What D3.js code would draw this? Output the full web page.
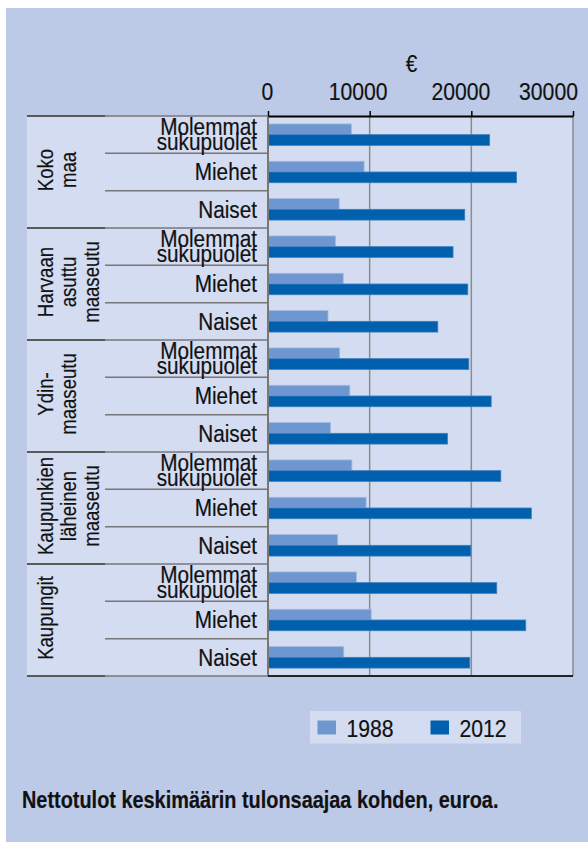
<!DOCTYPE html>
<html lang="fi">
<head>
<meta charset="utf-8">
<title>Nettotulot keskimäärin tulonsaajaa kohden</title>
<script src="https://d3js.org/d3.v7.min.js"></script>
<style>
  body { margin: 0; background: #fff; }
  svg text { font-family: "Liberation Sans", Arial, sans-serif; fill: #111; stroke: #111; stroke-width: 0.2; }
</style>
</head>
<body>
<div id="chart"></div>
<script>
// data
const groups = ["Koko maa", "Harvaan asuttu maaseutu", "Ydin-maaseutu", "Kaupunkien läheinen maaseutu", "Kaupungit"];
const groupLines = [["Koko", "maa"], ["Harvaan", "asuttu", "maaseutu"], ["Ydin-", "maaseutu"], ["Kaupunkien", "läheinen", "maaseutu"], ["Kaupungit"]];
const subgroups = ["Molemmat sukupuolet", "Miehet", "Naiset"];
const subLines = [["Molemmat", "sukupuolet"], ["Miehet"], ["Naiset"]];
const years = ["1988", "2012"];
const values1988 = [8200, 9450, 7000, 6650, 7400, 5900, 7050, 8050, 6150, 8250, 9650, 6850, 8700, 10150, 7450];
const values2012 = [21800, 24450, 19350, 18200, 19650, 16700, 19750, 21950, 17650, 22900, 25900, 19950, 22500, 25350, 19850];
const xTicks = [0, 10000, 20000, 30000];
const unitLabel = "€";
const caption = "Nettotulot keskimäärin tulonsaajaa kohden, euroa.";

const W = 588, H = 842;
const colors = { "1988": "#6f97cf", "2012": "#0060ad" };
const strokes = { "1988": "#a3bbe2", "2012": "#3b7dc2" };
const NARROW = "scale(0.865,1)"; // condensed look, no narrow font installed

// rows: one per group x subgroup
const rows = [];
groups.forEach((g, gi) => subgroups.forEach((s, si) => {
  const i = gi * subgroups.length + si;
  rows.push({ id: i, group: g, gi: gi, sub: s, si: si, v: { "1988": values1988[i], "2012": values2012[i] } });
}));

const plotL = 268, plotR = 573, plotT = 116, plotB = 676;
const groupL = 27, subL = 105;

const x = d3.scaleLinear().domain([0, 30000]).range([plotL, plotR]);
const y = d3.scaleBand().domain(rows.map(d => d.id)).range([plotT, plotB]);
const yy = d3.scaleBand().domain(years).range([0, y.bandwidth()]).paddingOuter(0.74);

const svg = d3.select("#chart").append("svg").attr("width", W).attr("height", H);

// backgrounds
svg.append("rect").attr("x", 6).attr("y", 8).attr("width", W - 6).attr("height", H - 8).attr("fill", "#bccae8");
svg.append("rect").attr("x", groupL).attr("y", plotT).attr("width", plotR - groupL).attr("height", plotB - plotT).attr("fill", "#d3dcf0");

// grid lines
svg.append("g").selectAll("line").data(xTicks.slice(1)).join("line")
  .attr("x1", d => x(d)).attr("x2", d => x(d)).attr("y1", plotT).attr("y2", plotB)
  .attr("stroke", "#8c8c8c").attr("stroke-width", 1.5);

// row separators
const seps = svg.append("g");
rows.forEach(d => {
  if (d.id === 0) return;
  const y0 = y(d.id);
  if (d.si === 0) {
    seps.append("line").attr("x1", groupL).attr("x2", subL).attr("y1", y0).attr("y2", y0)
      .attr("stroke", "#5a5a5a").attr("stroke-width", 2);
  }
  seps.append("line").attr("x1", subL).attr("x2", plotL).attr("y1", y0).attr("y2", y0)
    .attr("stroke", "#777").attr("stroke-width", 1.5);
});
// top and bottom edges of label panel
[plotT, plotB].forEach(v => {
  seps.append("line").attr("x1", groupL).attr("x2", subL).attr("y1", v).attr("y2", v).attr("stroke", "#5a5a5a").attr("stroke-width", 2);
  seps.append("line").attr("x1", subL).attr("x2", plotL).attr("y1", v).attr("y2", v).attr("stroke", "#777").attr("stroke-width", 1.5);
});

// bars
const rowG = svg.append("g").selectAll("g").data(rows).join("g")
  .attr("transform", d => `translate(0,${y(d.id)})`);
rowG.selectAll("rect").data(d => years.map(k => ({ year: k, value: d.v[k] }))).join("rect")
  .attr("x", x(0))
  .attr("y", d => yy(d.year))
  .attr("width", d => x(d.value) - x(0))
  .attr("height", yy.bandwidth())
  .attr("fill", d => colors[d.year])
  .attr("stroke", d => strokes[d.year])
  .attr("stroke-width", 0.8);

// zero line, bottom line
svg.append("line").attr("x1", x(0)).attr("x2", x(0)).attr("y1", plotT).attr("y2", plotB)
  .attr("stroke", "#777").attr("stroke-width", 2);
svg.append("line").attr("x1", x(0)).attr("x2", plotR).attr("y1", plotB).attr("y2", plotB)
  .attr("stroke", "#222").attr("stroke-width", 2);

// top axis
const labelShift = { 0: -1, 10000: -12, 20000: -11, 30000: -25 };
const axis = svg.append("g").attr("transform", `translate(0,${plotT})`)
  .call(d3.axisTop(x).tickValues(xTicks).tickSize(5).tickSizeOuter(0).tickPadding(11).tickFormat(d3.format("d")));
axis.attr("font-family", null).attr("font-size", null);
axis.select(".domain").attr("stroke", "#000").attr("stroke-width", 2);
axis.selectAll(".tick line").attr("stroke", "#000").attr("stroke-width", 1.5);
axis.selectAll(".tick text").attr("font-size", 24.5).attr("fill", "#111")
  .attr("transform", d => `translate(${labelShift[d]},0) ${NARROW}`);

svg.append("text").attr("transform", `translate(411.5,72) ${NARROW}`).attr("text-anchor", "middle")
  .attr("font-size", 24).text(unitLabel);

// subgroup labels
const subText = rowG.append("text").attr("text-anchor", "end").attr("font-size", 24)
  .attr("transform", `translate(257,0) ${NARROW}`);
subText.selectAll("tspan").data(d => subLines[d.si].map((t, j, a) => ({ t: t, j: j, n: a.length }))).join("tspan")
  .attr("x", 0)
  .attr("y", d => d.n === 1 ? 27 : 19.3 + d.j * 14.3)
  .text(d => d.t);

// group labels (rotated)
const gH = y.bandwidth() * subgroups.length;
svg.append("g").selectAll("text").data(groups).join("text")
  .attr("transform", (d, i) => `translate(0,${plotT + i * gH + gH / 2 - 2}) rotate(-90) ${NARROW}`)
  .attr("text-anchor", "middle").attr("font-size", 21.5)
  .selectAll("tspan").data((d, i) => groupLines[i]).join("tspan")
  .attr("x", 0).attr("y", (d, j) => 53 + j * 22.8)
  .text(d => d);

// legend
const lg = svg.append("g").attr("transform", "translate(310,711)");
lg.append("rect").attr("width", 211).attr("height", 32.5).attr("fill", "#d3dcf0");
const li = lg.selectAll("g").data(years).join("g").attr("transform", (d, i) => `translate(${7.5 + i * 113},0)`);
li.append("rect").attr("y", 9.5).attr("width", 18.5).attr("height", 14).attr("fill", d => colors[d]);
li.append("text").attr("transform", `translate(29,25.7) ${NARROW}`).attr("font-size", 24.5).text(d => d);

// caption
svg.append("text").attr("transform", `translate(22,808.3) ${NARROW}`).attr("font-size", 23)
  .attr("font-weight", "bold").text(caption);
</script>
</body>
</html>
